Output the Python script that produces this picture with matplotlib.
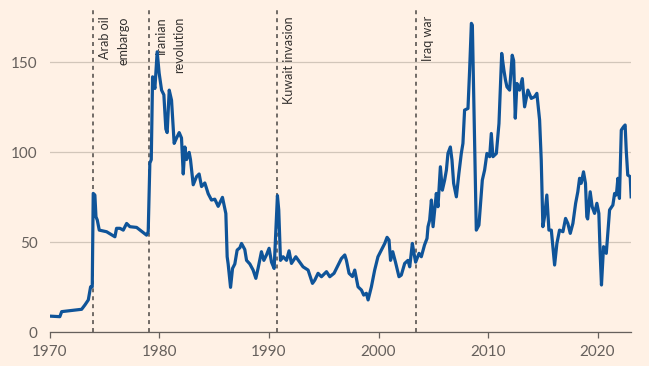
"""
Real oil price since 1970 with major supply shocks marked, FT style.
"""

import matplotlib
matplotlib.use("Agg")
import matplotlib.pyplot as plt

# Values
years = [
    1970.0, 1970.9, 1971.07, 1971.5, 1972.44, 1972.89, 1973.19, 1973.5, 1973.71, 1973.86,
    1973.95, 1974.1, 1974.2, 1974.32, 1974.5, 1975.17, 1975.93, 1976.08, 1976.39, 1976.69,
    1977.0, 1977.3, 1977.91, 1978.82, 1978.97, 1979.05, 1979.12, 1979.25, 1979.37, 1979.58,
    1979.79, 1979.97, 1980.19, 1980.4, 1980.58, 1980.7, 1980.89, 1981.1, 1981.34, 1981.56,
    1981.8, 1982.01, 1982.17, 1982.32, 1982.47, 1982.71, 1982.83, 1983.08, 1983.38, 1983.62,
    1983.84, 1984.14, 1984.45, 1984.75, 1985.05, 1985.36, 1985.75, 1986.06, 1986.18, 1986.27,
    1986.49, 1986.67, 1986.88, 1987.09, 1987.34, 1987.49, 1987.79, 1987.95, 1988.25, 1988.55,
    1988.8, 1989.0, 1989.31, 1989.53, 1989.77, 1990.01, 1990.23, 1990.47, 1990.68, 1990.77,
    1990.89, 1991.05, 1991.29, 1991.6, 1991.83, 1992.05, 1992.45, 1992.81, 1993.11, 1993.57,
    1993.97, 1994.18, 1994.48, 1994.79, 1995.25, 1995.55, 1995.94, 1996.31, 1996.61, 1996.92,
    1997.07, 1997.31, 1997.62, 1997.83, 1998.13, 1998.44, 1998.65, 1998.89, 1999.05, 1999.35,
    1999.65, 1999.95, 2000.26, 2000.57, 2000.78, 2000.96, 2001.1, 2001.3, 2001.55, 2001.87,
    2002.08, 2002.39, 2002.69, 2002.85, 2003.09, 2003.24, 2003.39, 2003.7, 2003.91, 2004.2,
    2004.43, 2004.52, 2004.67, 2004.83, 2004.98, 2005.28, 2005.43, 2005.65, 2005.83, 2006.04,
    2006.2, 2006.34, 2006.56, 2006.71, 2006.86, 2007.11, 2007.34, 2007.56, 2007.71, 2007.86,
    2008.17, 2008.32, 2008.48, 2008.57, 2008.72, 2008.93, 2009.17, 2009.48, 2009.69, 2009.9,
    2010.15, 2010.3, 2010.45, 2010.76, 2011.0, 2011.25, 2011.45, 2011.6, 2011.73, 2011.97,
    2012.21, 2012.34, 2012.49, 2012.64, 2012.88, 2013.13, 2013.34, 2013.64, 2013.95, 2014.25,
    2014.46, 2014.71, 2014.86, 2015.01, 2015.16, 2015.37, 2015.56, 2015.78, 2016.08, 2016.29,
    2016.53, 2016.84, 2017.08, 2017.29, 2017.51, 2017.75, 2018.0, 2018.2, 2018.36, 2018.51,
    2018.72, 2018.9, 2019.02, 2019.1, 2019.33, 2019.51, 2019.73, 2019.94, 2020.12, 2020.24,
    2020.36, 2020.55, 2020.8, 2021.1, 2021.4, 2021.56, 2021.72, 2021.86, 2022.0, 2022.17,
    2022.37, 2022.52, 2022.62, 2022.76, 2022.98, 2023.07,
]
prices = [
    9, 8.7, 11.5, 11.8, 12.4, 12.8, 15.2, 18, 25.3, 25.3,
    77.2, 76.3, 64.2, 62.4, 56.8, 55.9, 53.1, 57.8, 57.8, 56.8,
    60.5, 58.7, 58.3, 54, 55.9, 75, 94, 96, 142, 135.5,
    155.9, 144, 134.6, 132, 113, 111, 134.6, 129, 105, 108,
    111, 108, 88, 103, 96, 100, 96, 82, 86.5, 88,
    81, 83, 77, 73.5, 74, 70, 75, 66, 42, 38,
    25, 35.5, 38, 45.7, 47, 49.4, 46, 40, 38, 34.6,
    30, 35.5, 44.8, 40, 43, 46.7, 39, 35.5, 64, 76,
    68, 40, 42, 40, 45.3, 38.3, 42, 39, 36.4, 34.6,
    27.2, 29, 32.8, 30.9, 33.7, 30.9, 32.8, 37.4, 41, 43,
    40, 32.8, 31, 34.6, 25.3, 23.5, 20.7, 21.7, 18, 25.3,
    34.6, 42, 45.7, 49.4, 52.8, 51.3, 40, 44.8, 39, 30.9,
    31.8, 38.3, 40, 36.4, 49.4, 43.9, 39, 43.9, 42, 48.5,
    52.2, 58.7, 62.4, 73.5, 58.7, 77.2, 69.8, 92, 79, 84.6,
    90.2, 99.4, 103, 95.7, 82.8, 75.3, 88.3, 99.4, 105, 123.5,
    124.4, 145.7, 171.7, 170.7, 123.5, 56.8, 59.6, 84.6, 90.2, 99.4,
    97.6, 110.5, 97.6, 99.4, 116, 155, 145.7, 140, 136.4, 134.6,
    154, 151, 119, 138.3, 134.6, 141, 125.3, 134.6, 130, 130.9,
    132.8, 118, 95.7, 58.7, 64.2, 76.3, 56.8, 56.8, 37.4, 49.4,
    56.8, 55.9, 63.3, 60.5, 55, 60.5, 71.7, 78.1, 85.6, 82.8,
    89.2, 82.8, 64.2, 63, 78.1, 69.8, 66.1, 71.7, 66.1, 43.9,
    26.3, 47.6, 43.9, 68, 70.7, 77.2, 76.3, 85.6, 74.4, 112.4,
    114.2, 115.2, 101.3, 87.4, 86.5, 75.3,
]

event_years = [1973.9, 1979.0, 1990.75, 2003.4]
event_labels = [["Arab oil", "embargo"], ["Iranian", "revolution"],
                ["Kuwait invasion"], ["Iraq war"]]

x_ticks = [1970, 1980, 1990, 2000, 2010, 2020]
y_ticks = [0, 50, 100, 150]

BG = "#FFF1E5"
LINE = "#0F5499"
GRID = "#D2C6BA"
AXIS = "#66605C"
TEXT = "#33302E"

plt.rcParams['font.family'] = ['Lato', 'DejaVu Sans']

fig = plt.figure(figsize=(6.49, 3.66), dpi=100, facecolor=BG)
ax = fig.add_axes([0.077, 0.092, 0.896, 0.885], facecolor=BG)

# Event markers
trans = ax.get_xaxis_transform()
for yr, lines in zip(event_years, event_labels):
    ax.axvline(yr, color=AXIS, lw=1.3, ls=(0, (2.2, 2.2)), zorder=1)
    for i, txt in enumerate(lines):
        ax.annotate(txt, xy=(yr, 0.976), xycoords=trans,
                    xytext=(4.3 + i * 13.6, 0), textcoords='offset points',
                    rotation=90, ha='left', va='top', fontsize=9,
                    color=TEXT)

ax.plot(years, prices, color=LINE, lw=2.3, solid_joinstyle='round', zorder=3)

ax.set_xlim(1970, 2023.1)
ax.set_ylim(0, 180)
ax.set_xticks(x_ticks)
ax.set_yticks(y_ticks)

ax.yaxis.grid(True, color=GRID, lw=0.9)
ax.set_axisbelow(True)
for s in ['top', 'right', 'left']:
    ax.spines[s].set_visible(False)
ax.spines['bottom'].set_color(AXIS)
ax.spines['bottom'].set_linewidth(0.9)

ax.tick_params(axis='x', colors=AXIS, length=4, width=0.9, pad=5, labelsize=11)
ax.tick_params(axis='y', length=0, pad=9, labelsize=11, labelcolor=AXIS)
for lab in ax.get_xticklabels() + ax.get_yticklabels():
    lab.set_color(AXIS)

fig.savefig("out.png", dpi=100, facecolor=BG)
